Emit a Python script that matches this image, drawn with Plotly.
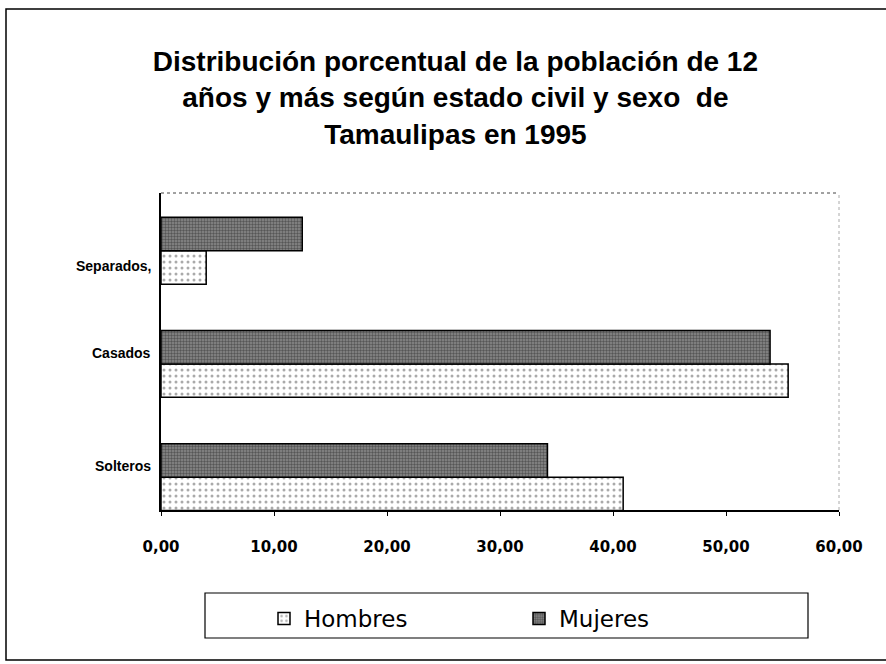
import plotly.graph_objects as go

# Estado civil (de abajo hacia arriba en el eje)
categorias = ["Solteros", "Casados", "Separados,"]
hombres = [40.9, 55.5, 4.0]
mujeres = [34.2, 53.9, 12.5]

tick_vals = [0, 10, 20, 30, 40, 50, 60]
tick_text = ["0,00", "10,00", "20,00", "30,00", "40,00", "50,00", "60,00"]

titulo = ("Distribución porcentual de la población de 12<br>"
          "años y más según estado civil y sexo  de<br>"
          "Tamaulipas en 1995")

# desplazamiento vertical (px) de cada rótulo de categoría
desplaz_rotulos = [11, 11, -15]

W, H = 886, 664
L, R, T, B = 161, 47, 193, 154
pw, ph = W - L - R, H - T - B


def px_x(px):
    return (px - L) / pw


def px_y(py):
    return (H - B - py) / ph


fig = go.Figure()
fig.add_trace(go.Bar(
    y=categorias, x=hombres, name="Hombres", orientation="h",
    marker=dict(color="white", line=dict(color="black", width=1.5),
                pattern=dict(shape=".", fgcolor="#555", bgcolor="white",
                             size=6, solidity=0.2)),
))
fig.add_trace(go.Bar(
    y=categorias, x=mujeres, name="Mujeres", orientation="h",
    marker=dict(color="#777", line=dict(color="black", width=1.5),
                pattern=dict(shape=".", fgcolor="#222", bgcolor="#8a8a8a",
                             size=3, solidity=0.5)),
))

shapes = [
    # marco exterior del gráfico
    dict(type="rect", xref="paper", yref="paper",
         x0=px_x(6), x1=px_x(890), y0=px_y(660), y1=px_y(9),
         line=dict(color="black", width=1.5), fillcolor="rgba(0,0,0,0)", layer="below"),
    # borde superior punteado del área de trazado
    dict(type="line", xref="paper", yref="paper", x0=0, x1=1, y0=1, y1=1,
         line=dict(color="#444", width=1, dash="dot")),
    # borde derecho punteado
    dict(type="line", xref="paper", yref="paper", x0=1, x1=1, y0=0, y1=1,
         line=dict(color="#aaa", width=1, dash="dot")),
    # recuadro de la leyenda
    dict(type="rect", xref="paper", yref="paper",
         x0=px_x(205), x1=px_x(808), y0=px_y(638), y1=px_y(593),
         line=dict(color="black", width=1.2), fillcolor="rgba(0,0,0,0)"),
]

annotations = [
    dict(x=0, xref="paper", y=cat, yref="y", text=cat, showarrow=False,
         xanchor="right", xshift=-8, yshift=dy,
         font=dict(family="Liberation Sans, Arial", size=14, color="black",
                   weight="bold"))
    for cat, dy in zip(categorias, desplaz_rotulos)
]

fig.update_layout(
    width=W, height=H,
    margin=dict(l=L, r=R, t=T, b=B),
    paper_bgcolor="white", plot_bgcolor="white",
    barmode="group", bargap=0.41, bargroupgap=0,
    title=dict(text=titulo, x=0.514, xanchor="center", y=1 - 71 / H, yanchor="top",
               font=dict(family="Liberation Sans, Arial", size=28, color="black",
                         weight="bold")),
    font=dict(family="Liberation Sans, Arial", color="black"),
    xaxis=dict(range=[0, 60], tickvals=tick_vals, ticktext=tick_text,
               showgrid=False, zeroline=False, showline=True, linecolor="black",
               linewidth=1.5, ticks="outside", ticklen=4, tickcolor="black",
               ticklabelstandoff=18,
               tickfont=dict(family="DejaVu Sans", size=15, weight="bold"),
               fixedrange=True),
    yaxis=dict(range=[-0.29, 2.51], showgrid=False, zeroline=False, showline=True,
               linecolor="black", linewidth=1.5, ticks="", showticklabels=False),
    legend=dict(orientation="h", x=px_x(264), y=px_y(597), xanchor="left",
                yanchor="top", traceorder="normal", entrywidth=210,
                itemwidth=30,
                font=dict(family="DejaVu Sans", size=23),
                bgcolor="rgba(0,0,0,0)", borderwidth=0),
    shapes=shapes,
    annotations=annotations,
    showlegend=True,
)

fig.write_html("out.html")
